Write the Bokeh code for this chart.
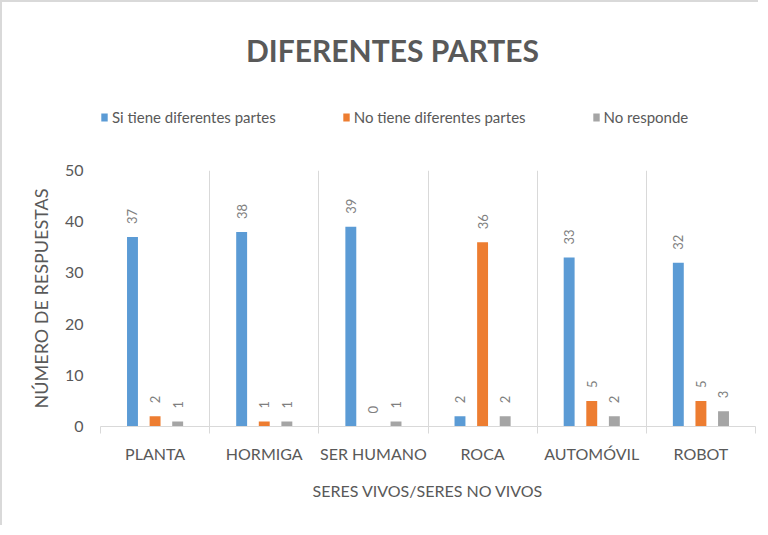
import math
from bokeh.plotting import figure
from bokeh.layouts import column
from bokeh.models import (ColumnDataSource, FixedTicker, Legend, LegendItem,
                          LabelSet, Label)
from bokeh.core.properties import value
from bokeh.embed import file_html
from bokeh.resources import INLINE

categories = ["PLANTA", "HORMIGA", "SER HUMANO", "ROCA", "AUTOMÓVIL", "ROBOT"]
si_tiene = [37, 38, 39, 2, 33, 32]
no_tiene = [2, 1, 0, 36, 5, 5]
no_responde = [1, 1, 1, 2, 2, 3]
series_names = ["Si tiene diferentes partes", "No tiene diferentes partes", "No responde"]
series_colors = ["#5b9bd5", "#ed7d31", "#a5a5a5"]
y_ticks = [0, 10, 20, 30, 40, 50]
chart_title = "DIFERENTES PARTES"

FONT = "Lato"
TXT = "#595959"
BORDER = "2px solid #d9d9d9"

W = 758
HEAD_H = 150
FRAME_W = 655  # header frame is aligned with the chart frame by the column layout

bounds = list(range(len(categories) + 1))
centers = [i + 0.5 for i in range(len(categories))]
offsets = [-0.207, 0.0, 0.207]
bar_w = 0.1
series_values = [si_tiene, no_tiene, no_responde]
sources = []
for vals, off in zip(series_values, offsets):
    xs = [c + off for c in centers]
    sources.append(ColumnDataSource(dict(x=xs, top=vals, lab=[str(v) for v in vals])))

# ---------- header: title + legend ----------
head = figure(width=W, height=HEAD_H, output_backend="svg", toolbar_location=None,
              x_range=(0, FRAME_W), y_range=(0, HEAD_H), x_axis_type=None, y_axis_type=None,
              min_border=0, min_border_left=0, min_border_right=0,
              min_border_top=0, min_border_bottom=0,
              styles={"border-left": BORDER, "border-top": BORDER})
head.outline_line_color = None
head.xgrid.grid_line_color = None
head.ygrid.grid_line_color = None

# legend keys (hidden copies of the series; only their legend swatches are shown)
proxies = []
for name, col, src in zip(series_names, series_colors, sources):
    r = head.vbar(x="x", top="top", width=bar_w, source=src, fill_color=col,
                  line_color=None, visible=False)
    proxies.append((name, r))

legend = Legend(items=[LegendItem(label=n, renderers=[r]) for n, r in proxies],
                orientation="horizontal", location=(0, 26),
                glyph_width=8, glyph_height=10, spacing=66, padding=0, margin=0,
                label_text_font=FONT, label_text_font_size="15px",
                label_text_color=TXT, label_standoff=4, label_height=16,
                border_line_color=None, background_fill_alpha=0,
                inactive_fill_alpha=0)
head.add_layout(legend, "center")

head.add_layout(Label(x=292, y=103, text=chart_title, text_align="center",
                      text_baseline="middle", text_font=FONT, text_font_size="30px",
                      text_font_style="bold", text_color=TXT))

# ---------- main chart ----------
p = figure(width=W, height=375, output_backend="svg", toolbar_location=None,
           x_range=(0, len(categories)), y_range=(0, 50),
           min_border_left=98, min_border_right=5, min_border_top=20,
           min_border_bottom=99,
           styles={"border-left": BORDER})
p.outline_line_color = None

for src, col in zip(sources, series_colors):
    p.vbar(x="x", top="top", width=bar_w, source=src, fill_color=col, line_color=None)
    p.add_layout(LabelSet(x="x", y="top", text="lab", source=src, angle=math.pi / 2,
                          text_align="left", text_baseline="middle", y_offset=13,
                          text_font=value(FONT), text_font_size=value("13px"),
                          text_color=value("#7f7f7f")))

p.xaxis.ticker = FixedTicker(ticks=centers, minor_ticks=bounds)
p.xaxis.major_label_overrides = {c: lab for c, lab in zip(centers, categories)}
p.xaxis.major_tick_out = 0
p.xaxis.major_tick_in = 0
p.xaxis.minor_tick_out = 7
p.xaxis.minor_tick_in = 0
p.xaxis.minor_tick_line_color = "#d9d9d9"
p.xaxis.axis_line_color = "#d9d9d9"
p.xaxis.major_label_text_font = FONT
p.xaxis.major_label_text_font_size = "16px"
p.xaxis.major_label_text_color = TXT
p.xaxis.major_label_standoff = 10
p.xaxis.axis_label = "SERES VIVOS/SERES NO VIVOS"
p.xaxis.axis_label_text_font = FONT
p.xaxis.axis_label_text_font_size = "16px"
p.xaxis.axis_label_text_font_style = "normal"
p.xaxis.axis_label_text_color = TXT
p.xaxis.axis_label_standoff = 15

p.xgrid.ticker = FixedTicker(ticks=bounds)
p.xgrid.grid_line_color = "#d9d9d9"
p.ygrid.grid_line_color = None

p.yaxis.ticker = FixedTicker(ticks=y_ticks)
p.yaxis.axis_line_color = None
p.yaxis.major_tick_line_color = None
p.yaxis.minor_tick_line_color = None
p.yaxis.major_label_text_font = FONT
p.yaxis.major_label_text_font_size = "16px"
p.yaxis.major_label_text_color = TXT
p.yaxis.major_label_standoff = 11
p.yaxis.axis_label = "NÚMERO DE RESPUESTAS"
p.yaxis.axis_label_text_font = FONT
p.yaxis.axis_label_text_font_size = "18px"
p.yaxis.axis_label_text_font_style = "normal"
p.yaxis.axis_label_text_color = TXT
p.yaxis.axis_label_standoff = 10

layout = column(head, p, spacing=0)
open("out.html", "w").write(file_html(layout, INLINE))
